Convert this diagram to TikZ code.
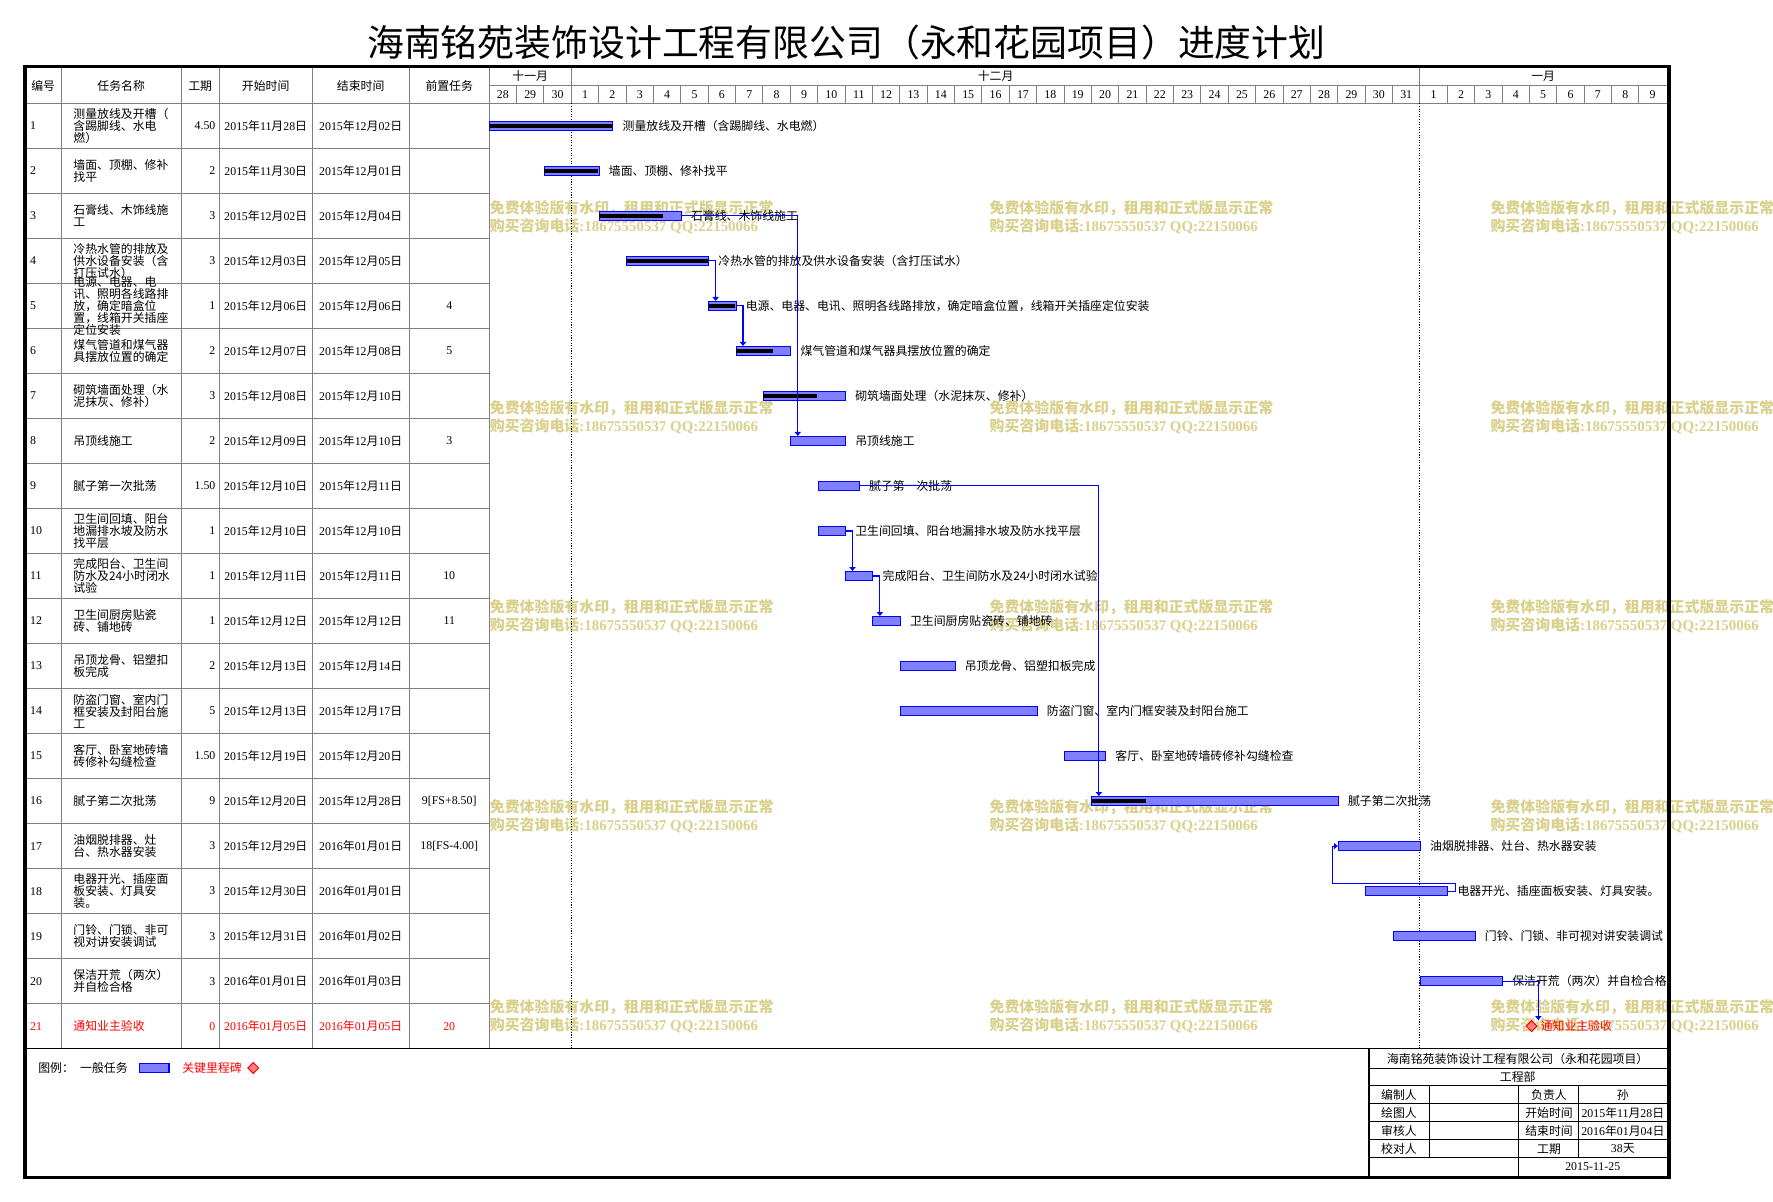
\documentclass[tikz,border=0pt]{standalone}
\usepackage{fontspec}
\setmainfont{Noto Sans CJK SC}
\newfontfamily\lat{Liberation Serif}
\usetikzlibrary{shapes.geometric,arrows.meta}
\definecolor{gridc}{RGB}{128,128,128}
\definecolor{hatch}{RGB}{128,128,255}
\definecolor{wm}{RGB}{217,208,140}
\definecolor{mred}{RGB}{255,130,130}
\newcommand\gX[1]{432.6+24.21*(#1)}
\newcommand\rY[1]{111.3+39.81*(#1-1)}
\newcommand\dte[3]{{\lat #1}年{\lat #2}月{\lat #3}日}
\tikzset{
 gline/.style={draw=gridc,line width=0.9pt},
 bline/.style={draw=black,line width=0.9pt},
 cell/.style={inner sep=0pt,font=\fontsize{10.5}{10.6}\selectfont},
 lbl/.style={inner sep=0pt,anchor=west,font=\fontsize{10.5}{10.6}\selectfont},
 bar/.style={rectangle,draw=blue,fill=hatch,line width=0.9pt,minimum height=8pt,inner sep=0pt,anchor=west},
 link/.style={draw=blue,line width=0.9pt,-{Triangle[length=3.5pt,width=5.5pt]}},
 wmk/.style={text=wm,inner sep=0pt,anchor=west,font=\fontsize{13.2}{14}\selectfont\bfseries},
 ms/.style={diamond,draw=red,fill=mred,minimum size=10pt,inner sep=0pt,line width=0.9pt},
}
\newcommand\trow[7]{%
 \node[cell,anchor=west,text=#7] (no#1) at (26.5,{\rY{#1}}) {\lat #1};
 \node[cell,anchor=west,align=left,text=#7] (nm#1) at (64.8,{\rY{#1}}) {#2};
 \node[cell,anchor=east,text=#7] (du#1) at (190.7,{\rY{#1}}) {\lat #3};
 \node[cell,text=#7] (st#1) at (235,{\rY{#1}}) {#4};
 \node[cell,text=#7] (en#1) at (319,{\rY{#1}}) {#5};
 \node[cell,text=#7] (pr#1) at (397.3,{\rY{#1}}) {\lat #6};
}
\newcommand\gbar[4]{%
 \node[bar,minimum width=#3pt] (b#1) at ({\gX{#2}},{\rY{#1}}) {};
 \node[lbl] (l#1) at ([xshift=8pt]b#1.east) {#4};
}
\newcommand\prog[2]{\fill[black] (b#1.west) ++(0.45,-1.5) rectangle ++(#2,3);}
\begin{document}
\begin{tikzpicture}[x=1pt,y=-1pt]
\useasboundingbox (0,0) rectangle (1568,1063);
% watermark
\foreach \wx in {433,875,1318}{\foreach \wy in {184,361,537,714,891}{
 \node[wmk] (wa-\wx-\wy) at (\wx,\wy) {免费体验版有水印，租用和正式版显示正常};
 \node[wmk] (wb-\wx-\wy) at (\wx,\wy+16) {购买咨询电话{\lat :18675550537 QQ:22150066}};
}}
% title
\node[inner sep=0pt,font=\fontsize{32.6}{34}\selectfont] (title) at (748.5,38) {海南铭苑装饰设计工程有限公司（永和花园项目）进度计划};
% table grid
\foreach \x in {54.2,160.3,193.9,276.1,361.9,432.6} \draw[gline] (\x,60) -- (\x,927.5);
\foreach \i in {1,...,20} \draw[gline] (22,{91.4+39.81*\i}) -- (432.6,{91.4+39.81*\i});
\draw[gline] (22,91.4) -- (1474,91.4);
\draw[gline] (432.6,75.2) -- (1474,75.2);
\foreach \d in {1,...,42} \draw[gline] ({\gX{\d}},75.2) -- ({\gX{\d}},91.4);
\draw[gline] ({\gX{3}},60) -- ({\gX{3}},75.2);
\draw[gline] ({\gX{34}},60) -- ({\gX{34}},75.2);
\draw[black,line width=0.9pt,dash pattern=on 1pt off 1.3pt] ({\gX{3}},91.4) -- ({\gX{3}},927.5);
\draw[black,line width=0.9pt,dash pattern=on 1pt off 1.3pt] ({\gX{34}},91.4) -- ({\gX{34}},927.5);
\draw[bline] (22,927.5) -- (1474,927.5);
% header
\node[cell] (h1) at (38.2,76) {编号};
\node[cell] (h2) at (107.2,76) {任务名称};
\node[cell] (h3) at (177,76) {工期};
\node[cell] (h4) at (235,76) {开始时间};
\node[cell] (h5) at (319,76) {结束时间};
\node[cell] (h6) at (397.3,76) {前置任务};
\node[cell] (mon1) at ({\gX{1.5}},67.6) {十一月};
\node[cell] (mon2) at ({\gX{18.5}},67.6) {十二月};
\node[cell] (mon3) at ({\gX{38.5}},67.6) {一月};
\foreach \d [count=\i from 0] in {28,29,30,1,2,3,4,5,6,7,8,9,10,11,12,13,14,15,16,17,18,19,20,21,22,23,24,25,26,27,28,29,30,31,1,2,3,4,5,6,7,8,9}
 \node[cell] (day\i) at ({\gX{\i}+12.1},83.3) {\lat\d};
% rows
\trow{1}{测量放线及开槽（\\含踢脚线、水电\\燃）}{4.50}{\dte{2015}{11}{28}}{\dte{2015}{12}{02}}{}{black}
\trow{2}{墙面、顶棚、修补\\找平}{2}{\dte{2015}{11}{30}}{\dte{2015}{12}{01}}{}{black}
\trow{3}{石膏线、木饰线施\\工}{3}{\dte{2015}{12}{02}}{\dte{2015}{12}{04}}{}{black}
\trow{4}{冷热水管的排放及\\供水设备安装（含\\打压试水）}{3}{\dte{2015}{12}{03}}{\dte{2015}{12}{05}}{}{black}
\trow{5}{电源、电器、电\\讯、照明各线路排\\放，确定暗盒位\\置，线箱开关插座\\定位安装}{1}{\dte{2015}{12}{06}}{\dte{2015}{12}{06}}{4}{black}
\trow{6}{煤气管道和煤气器\\具摆放位置的确定}{2}{\dte{2015}{12}{07}}{\dte{2015}{12}{08}}{5}{black}
\trow{7}{砌筑墙面处理（水\\泥抹灰、修补）}{3}{\dte{2015}{12}{08}}{\dte{2015}{12}{10}}{}{black}
\trow{8}{吊顶线施工}{2}{\dte{2015}{12}{09}}{\dte{2015}{12}{10}}{3}{black}
\trow{9}{腻子第一次批荡}{1.50}{\dte{2015}{12}{10}}{\dte{2015}{12}{11}}{}{black}
\trow{10}{卫生间回填、阳台\\地漏排水坡及防水\\找平层}{1}{\dte{2015}{12}{10}}{\dte{2015}{12}{10}}{}{black}
\trow{11}{完成阳台、卫生间\\防水及24小时闭水\\试验}{1}{\dte{2015}{12}{11}}{\dte{2015}{12}{11}}{10}{black}
\trow{12}{卫生间厨房贴瓷\\砖、铺地砖}{1}{\dte{2015}{12}{12}}{\dte{2015}{12}{12}}{11}{black}
\trow{13}{吊顶龙骨、铝塑扣\\板完成}{2}{\dte{2015}{12}{13}}{\dte{2015}{12}{14}}{}{black}
\trow{14}{防盗门窗、室内门\\框安装及封阳台施\\工}{5}{\dte{2015}{12}{13}}{\dte{2015}{12}{17}}{}{black}
\trow{15}{客厅、卧室地砖墙\\砖修补勾缝检查}{1.50}{\dte{2015}{12}{19}}{\dte{2015}{12}{20}}{}{black}
\trow{16}{腻子第二次批荡}{9}{\dte{2015}{12}{20}}{\dte{2015}{12}{28}}{9[FS+8.50]}{black}
\trow{17}{油烟脱排器、灶\\台、热水器安装}{3}{\dte{2015}{12}{29}}{\dte{2016}{01}{01}}{18[FS-4.00]}{black}
\trow{18}{电器开光、插座面\\板安装、灯具安\\装。}{3}{\dte{2015}{12}{30}}{\dte{2016}{01}{01}}{}{black}
\trow{19}{门铃、门锁、非可\\视对讲安装调试}{3}{\dte{2015}{12}{31}}{\dte{2016}{01}{02}}{}{black}
\trow{20}{保洁开荒（两次）\\并自检合格}{3}{\dte{2016}{01}{01}}{\dte{2016}{01}{03}}{}{black}
\trow{21}{通知业主验收}{0}{\dte{2016}{01}{05}}{\dte{2016}{01}{05}}{20}{red}
% bars
\gbar{1}{0}{108.95}{测量放线及开槽（含踢脚线、水电燃）}
\gbar{2}{2}{48.42}{墙面、顶棚、修补找平}
\gbar{3}{4}{72.63}{石膏线、木饰线施工}
\gbar{4}{5}{72.63}{冷热水管的排放及供水设备安装（含打压试水）}
\gbar{5}{8}{24.21}{电源、电器、电讯、照明各线路排放，确定暗盒位置，线箱开关插座定位安装}
\gbar{6}{9}{48.42}{煤气管道和煤气器具摆放位置的确定}
\gbar{7}{10}{72.63}{砌筑墙面处理（水泥抹灰、修补）}
\gbar{8}{11}{48.42}{吊顶线施工}
\gbar{9}{12}{36.32}{腻子第一次批荡}
\gbar{10}{12}{24.21}{卫生间回填、阳台地漏排水坡及防水找平层}
\gbar{11}{13}{24.21}{完成阳台、卫生间防水及24小时闭水试验}
\gbar{12}{14}{24.21}{卫生间厨房贴瓷砖、铺地砖}
\gbar{13}{15}{48.42}{吊顶龙骨、铝塑扣板完成}
\gbar{14}{15}{121.05}{防盗门窗、室内门框安装及封阳台施工}
\gbar{15}{21}{36.32}{客厅、卧室地砖墙砖修补勾缝检查}
\gbar{16}{22}{217.89}{腻子第二次批荡}
\gbar{17}{31}{72.63}{油烟脱排器、灶台、热水器安装}
\gbar{18}{32}{72.63}{电器开光、插座面板安装、灯具安装。}
\gbar{19}{33}{72.63}{门铃、门锁、非可视对讲安装调试}
\gbar{20}{34}{72.63}{保洁开荒（两次）并自检合格}
\prog{1}{108}
\prog{2}{47.5}
\prog{3}{56.5}
\prog{4}{71.7}
\prog{5}{23.3}
\prog{6}{32.5}
\prog{7}{47.3}
\prog{16}{47.8}
% milestone
\node[ms] (m21) at (1354.5,{\rY{21}}) {};
\node[lbl,text=red] (l21) at ([xshift=2.5pt]m21.east) {通知业主验收};
% links
\draw[link] (b3.east) -| ([xshift=6.6pt]b8.north west);
\draw[link] (b4.east) -| ([xshift=6.6pt]b5.north west);
\draw[link] (b5.east) -| ([xshift=6.6pt]b6.north west);
\draw[link] (b9.east) -| ([xshift=6.6pt]b16.north west);
\draw[link] (b10.east) -| ([xshift=6.6pt]b11.north west);
\draw[link] (b11.east) -| ([xshift=6.6pt]b12.north west);
\draw[link] (b18.east) -- ++(6.7,0) -- ++(0,-7) -| ([xshift=-5.1pt]b17.west) -- (b17.west);
\draw[link] (b20.east) -| ([xshift=6pt]m21.north);
% legend
\node[cell,anchor=west] (lg1) at (33.7,944.5) {图例：};
\node[cell,anchor=west] (lg2) at (70.7,944.5) {一般任务};
\node[bar,minimum width=26pt] (lgb) at (123,944.5) {};
\node[cell,anchor=west,text=red] (lg3) at (161,944.5) {关键里程碑};
\node[ms] (lgd) at (224,944.5) {};
% sign-off table
\draw[bline] (1210.7,927.5) -- (1210.7,1041);
\draw[bline] (1263.8,960.2) -- (1263.8,1023.9);
\draw[bline] (1343.3,960.2) -- (1343.3,1041);
\draw[bline] (1396.4,960.2) -- (1396.4,1023.9);
\foreach \y in {944.9,960.2,976.1,992,1008,1023.9} \draw[bline] (1210.7,\y) -- (1474,\y);
\node[cell] (sg0) at (1342.2,936.4) {海南铭苑装饰设计工程有限公司（永和花园项目）};
\node[cell] (sg1) at (1342.2,952.5) {工程部};
\node[cell] (sa1) at (1237.2,968.2) {编制人};
\node[cell] (sa2) at (1237.2,984) {绘图人};
\node[cell] (sa3) at (1237.2,1000) {审核人};
\node[cell] (sa4) at (1237.2,1016) {校对人};
\node[cell] (sb1) at (1369.9,968.2) {负责人};
\node[cell] (sb2) at (1369.9,984) {开始时间};
\node[cell] (sb3) at (1369.9,1000) {结束时间};
\node[cell] (sb4) at (1369.9,1016) {工期};
\node[cell] (sc1) at (1435.2,968.2) {孙};
\node[cell] (sc2) at (1435.2,984) {\dte{2015}{11}{28}};
\node[cell] (sc3) at (1435.2,1000) {\dte{2016}{01}{04}};
\node[cell] (sc4) at (1435.2,1016) {{\lat 38}天};
\node[cell] (sd) at (1408.6,1031.9) {\lat 2015-11-25};
% border
\draw[black,line width=3pt] (22.1,58.7) rectangle (1476,1041.3);
\end{tikzpicture}
\end{document}
